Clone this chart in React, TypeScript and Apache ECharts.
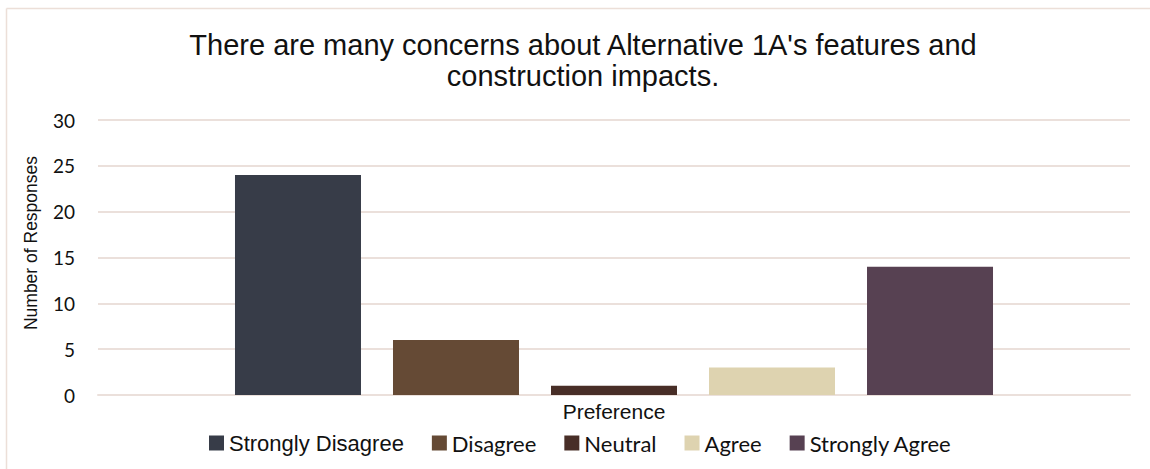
import React, { useEffect, useRef } from "react";
import * as echarts from "echarts";

const titleLines = ["There are many concerns about Alternative 1A's features and", "construction impacts."];
const categories = [""];
const seriesNames = ["Strongly Disagree", "Disagree", "Neutral", "Agree", "Strongly Agree"];
const seriesValues = [24, 6, 1, 3, 14];
const seriesColors = ["#373c48", "#654a35", "#482e27", "#ded3b0", "#574152"];
const yTicks = { min: 0, max: 30, interval: 5 };
const xAxisName = "Preference";
const yAxisName = "Number of Responses";

export default function App() {
  const ref = useRef<HTMLDivElement>(null);
  useEffect(() => {
    const chart = echarts.init(ref.current!, null, { renderer: "svg" });
    const grid = "#ebe0db";
    chart.setOption({
      animation: false,
      backgroundColor: "#ffffff",
      grid: { left: 98, right: 20, top: 120, bottom: 74, containLabel: false },
      graphic: [
        { type: "line", shape: { x1: 6.5, y1: 8.5, x2: 1150, y2: 8.5 }, style: { stroke: "#ecdfd8", lineWidth: 1.5 } },
        { type: "line", shape: { x1: 6.5, y1: 8.5, x2: 6.5, y2: 469 }, style: { stroke: "#ecdfd8", lineWidth: 1.5 } },
        {
          type: "text",
          x: 583,
          y: 29,
          style: {
            text: titleLines.join("\n"),
            textAlign: "center",
            textVerticalAlign: "top",
            fontSize: 29,
            lineHeight: 31,
            fontFamily: "Liberation Sans, Arial, sans-serif",
            fill: "#111111",
          },
        },
        {
          type: "text",
          x: 31,
          y: 243,
          rotation: Math.PI / 2,
          style: {
            text: yAxisName,
            textAlign: "center",
            textVerticalAlign: "middle",
            fontSize: 17.5,
            fontFamily: "Liberation Sans, Arial, sans-serif",
            fill: "#111111",
          },
        },
      ],
      legend: {
        left: 204,
        top: 427,
        itemWidth: 15,
        itemHeight: 15,
        itemGap: 28,
        icon: "rect",
        data: seriesNames.map((n, i) => ({
          name: n,
          textStyle:
            i === 0
              ? { fontFamily: "Liberation Sans, Arial, sans-serif", fontSize: 22, color: "#111111" }
              : { fontFamily: "Lato, sans-serif", fontSize: 22, color: "#111111" },
        })),
      },
      xAxis: {
        type: "category",
        data: categories,
        axisLine: { show: true, lineStyle: { color: grid, width: 2 } },
        axisTick: { show: false },
        axisLabel: { show: false },
        name: xAxisName,
        nameLocation: "middle",
        nameGap: 6,
        nameTextStyle: { fontSize: 21, fontFamily: "Liberation Sans, Arial, sans-serif", color: "#111111", verticalAlign: "top" },
      },
      yAxis: {
        type: "value",
        min: yTicks.min,
        max: yTicks.max,
        interval: yTicks.interval,
        axisLine: { show: false },
        axisTick: { show: false },
        axisLabel: { margin: 23, fontSize: 19, fontFamily: "Lato, sans-serif", color: "#111111" },
        splitLine: { lineStyle: { color: grid, width: 2 } },
      },
      series: seriesNames.map((n, i) => ({
        name: n,
        type: "bar",
        data: [seriesValues[i]],
        barWidth: 126,
        barGap: "25.4%",
        itemStyle: { color: seriesColors[i] },
      })),
    });
    return () => chart.dispose();
  }, []);
  return <div ref={ref} style={{ position: "absolute", left: 0, top: 0, width: 1150, height: 469 }} />;
}
